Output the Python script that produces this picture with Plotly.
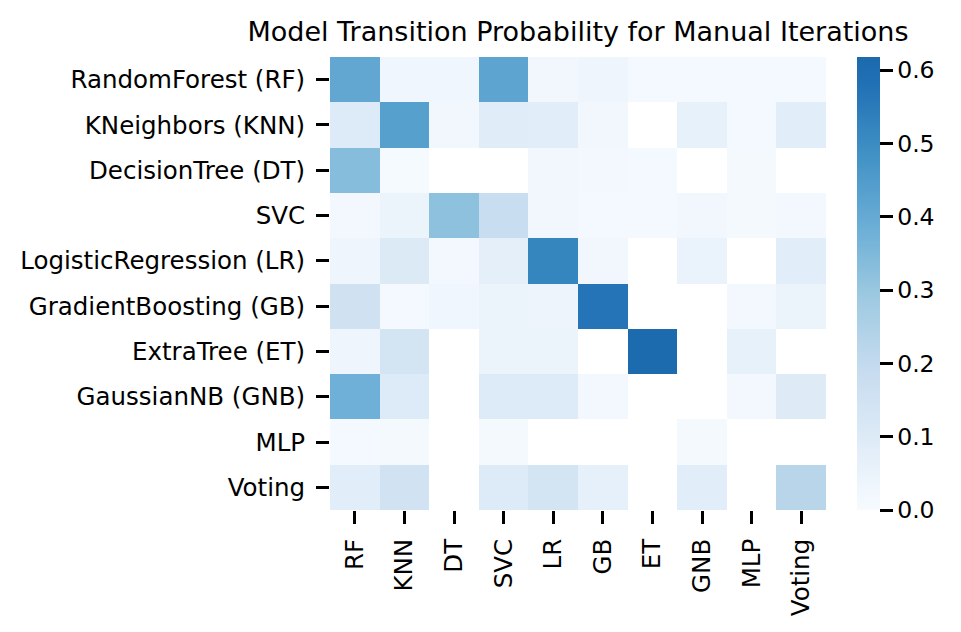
import numpy as np
import plotly.graph_objects as go

# rows = model the run moved from, columns = model it moved to
row_labels = ['RandomForest (RF)', 'KNeighbors (KNN)', 'DecisionTree (DT)', 'SVC',
              'LogisticRegression (LR)', 'GradientBoosting (GB)', 'ExtraTree (ET)',
              'GaussianNB (GNB)', 'MLP', 'Voting']
col_labels = ['RF', 'KNN', 'DT', 'SVC', 'LR', 'GB', 'ET', 'GNB', 'MLP', 'Voting']

nan = np.nan
# values, nan = no transition (blank cell)
rf_row = [0.41, 0.03, 0.03, 0.42, 0.025, 0.035, 0.015, 0.015, 0.015, 0.015]
knn_row = [0.10, 0.435, 0.025, 0.09, 0.085, 0.025, nan, 0.06, 0.015, 0.085]
dt_row = [0.335, 0.008, nan, nan, 0.025, 0.018, 0.015, nan, 0.012, nan]
svc_row = [0.02, 0.045, 0.32, 0.18, 0.025, 0.015, 0.015, 0.022, 0.012, 0.018]
lr_row = [0.035, 0.105, 0.018, 0.075, 0.52, 0.025, nan, 0.05, nan, 0.085]
gb_row = [0.153, 0.015, 0.03, 0.045, 0.04, 0.57, nan, nan, 0.02, 0.045]
et_row = [0.035, 0.14, nan, 0.045, 0.045, nan, 0.61, nan, 0.06, nan]
gnb_row = [0.38, 0.10, nan, 0.10, 0.10, 0.02, nan, nan, 0.02, 0.095]
mlp_row = [0.015, 0.01, nan, 0.01, nan, nan, nan, 0.01, nan, nan]
voting_row = [0.085, 0.15, nan, 0.10, 0.14, 0.065, nan, 0.085, nan, 0.225]

z = [rf_row, knn_row, dt_row, svc_row, lr_row, gb_row, et_row, gnb_row, mlp_row, voting_row]

# matplotlib Blues, cut off a bit below the darkest end
blues = [[0.0, '#f7fbff'], [0.156, '#deebf7'], [0.3125, '#c6dbef'], [0.469, '#9ecae1'],
         [0.625, '#6baed6'], [0.781, '#4292c6'], [0.9375, '#2171b5'], [1.0, '#1c69ae']]

# page body has an 8px margin, so the figure is 16px smaller and everything sits 8px up/left
# heatmap box in figure pixels: x 322..818, y 49..502
W, H = 945, 616
fig = go.Figure(go.Heatmap(
    z=z, x=col_labels, y=row_labels,
    colorscale=blues, zmin=0, zmax=0.618,
    hoverongaps=False,
    colorbar=dict(
        x=1 + 31 / 496, xanchor='left', xref='paper', xpad=0, ypad=0,
        y=0.5, yanchor='middle', len=1.0, lenmode='fraction',
        thickness=23, thicknessmode='pixels', outlinewidth=0,
        ticks='outside', ticklen=13, tickwidth=3, tickcolor='black',
        tickvals=[0, 0.1, 0.2, 0.3, 0.4, 0.5, 0.6], tickformat='.1f',
        tickfont=dict(size=23.5, color='black'),
    ),
))

fig.update_layout(
    width=W, height=H,
    margin=dict(l=322, r=W - 818, t=49, b=H - 502, autoexpand=False),
    paper_bgcolor='white', plot_bgcolor='white',
    font=dict(family='DejaVu Sans', color='black'),
    title=dict(text='Model Transition Probability for Manual Iterations',
               x=(322 + 818) / 2 / W, xanchor='center', y=1 - 24 / H, yanchor='middle',
               font=dict(size=27, color='black')),
)
fig.update_xaxes(showgrid=False, zeroline=False, showline=False, automargin=False,
                 ticks='outside', ticklen=13, tickwidth=3, tickcolor='black',
                 tickangle=-90, tickfont=dict(size=24.5), ticklabelstandoff=5)
fig.update_yaxes(showgrid=False, zeroline=False, showline=False, automargin=False,
                 autorange='reversed',
                 ticks='outside', ticklen=13, tickwidth=3, tickcolor='black',
                 tickfont=dict(size=24.5), ticklabelstandoff=6)

fig.write_html('out.html')
